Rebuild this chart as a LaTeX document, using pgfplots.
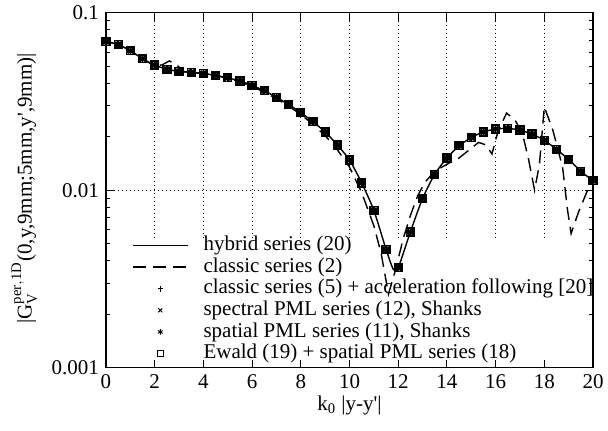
\documentclass[border=0pt]{standalone}
\usepackage{fontspec}
\setmainfont{Liberation Serif}
\usepackage{pgfplots}
\pgfplotsset{compat=1.18}
\usepackage{pgfplotstable}

\pgfplotsset{
  lineleg/.style={legend image code/.code={
    \draw[##1] (0pt,0pt) -- (27.5pt,0pt);
  }},
  markleg/.style={legend image code/.code={
    \path[draw=none, fill=none] (0pt,0pt) -- (27.5pt,0pt);
    \draw[##1, only marks, mark size=1.4pt, mark options={line width=0.45pt}] plot coordinates {(13.75pt,0pt)};
  }},
}

% hybrid series (20), sampled every 0.5 (the accelerated series coincide with it)
\pgfplotstableread{
x y
0 0.0686
0.5 0.0663
1 0.0611
1.5 0.0550
2 0.0507
2.5 0.0480
3 0.0467
3.5 0.0461
4 0.0455
4.5 0.0443
5 0.0430
5.5 0.0412
6 0.0390
6.5 0.0363
7 0.0334
7.5 0.0304
8 0.0274
8.5 0.0243
9 0.0213
9.5 0.0180
10 0.0148
10.5 0.0110
11 0.0077
11.5 0.00465
12 0.00366
12.5 0.00582
13 0.00898
13.5 0.0123
14 0.0152
14.5 0.0178
15 0.0198
15.5 0.0213
16 0.0221
16.5 0.0223
17 0.0218
17.5 0.0207
18 0.0191
18.5 0.0170
19 0.0149
19.5 0.0128
20 0.0113
}\points

\pgfplotstableread{
x y
0 0.0686
0.5 0.0663
1 0.0611
1.5 0.0550
2 0.0507
2.5 0.0480
3 0.0467
3.5 0.0461
4 0.0455
4.5 0.0443
5 0.0430
5.5 0.0412
6 0.0390
6.5 0.0363
7 0.0334
7.5 0.0304
8 0.0274
8.5 0.0243
9 0.0213
9.5 0.0180
10 0.0148
10.5 0.0110
11 0.0077
11.5 0.00465
11.8 0.00358
12 0.00366
12.5 0.00582
13 0.00898
13.5 0.0123
14 0.0152
14.5 0.0178
15 0.0198
15.5 0.0213
16 0.0221
16.5 0.0223
17 0.0218
17.5 0.0207
18 0.0191
18.5 0.0170
19 0.0149
19.5 0.0128
20 0.0113
}\hybrid

% classic series (2)
\pgfplotstableread{
x y
0 0.0690
0.5 0.0662
1 0.0610
1.5 0.0548
2 0.0503
2.3 0.0508
2.6 0.0535
2.9 0.0508
3.2 0.0466
3.5 0.0460
4 0.0454
4.5 0.0442
5 0.0428
5.5 0.0408
6 0.0384
6.5 0.0357
7 0.0328
7.5 0.0298
8 0.0267
8.5 0.0235
9 0.0203
9.5 0.0169
10 0.0135
10.5 0.0097
11 0.0063
11.3 0.0044
11.6 0.0026
11.9 0.0036
12.2 0.0053
12.5 0.0072
12.8 0.0093
13.1 0.0111
13.5 0.0128
14 0.0140
14.5 0.0152
14.9 0.0168
15.3 0.0186
15.6 0.0180
15.85 0.0160
16.1 0.0215
16.45 0.0272
16.8 0.0248
17.1 0.0209
17.35 0.0150
17.6 0.0100
17.8 0.0140
18.0 0.0295
18.35 0.0218
18.75 0.0135
18.95 0.0078
19.1 0.0057
19.4 0.0075
19.75 0.0098
20 0.0115
}\classic

\begin{document}
\begin{tikzpicture}[font=\fontsize{10.5}{12.6}\selectfont]
\begin{axis}[
  scale only axis, width=243.5pt, height=177.5pt,
  ymode=log, xmin=0, xmax=20, ymin=0.001, ymax=0.1,
  xtick={0,2,...,20},
  ytick={0.001,0.01,0.1}, yticklabels={0.001,0.01,0.1},
  /pgf/number format/assume math mode=true,
  axis line style={line width=0.6pt},
  tick style={black, line width=0.5pt},
  major tick length=4pt, minor tick length=2pt,
  xlabel={k\textsubscript{0} |y-y\textquotesingle|},
  xlabel style={at={(axis description cs:0.5,0)}, anchor=base, yshift=-21.2pt},
  ylabel={|G$^{\mathrm{per,1D}}_{\mathrm{V}}$(0,y,9mm;5mm,y\textquotesingle,9mm)|},
  ylabel style={at={(axis description cs:-0.1526,0.505)}, anchor=base},
  legend style={at={(axis description cs:0.0528,0.3758)}, anchor=north west,
    draw=none, fill=none, inner sep=0pt, column sep=7.5pt, row sep=0pt,
    nodes={inner sep=0pt, text height=8pt, text depth=2.8pt}},
  legend cell align=left,
]
% gnuplot style grid: dotted, vertical lines stop above the key
\pgfplotsinvokeforeach{2,4,6,8,10,12,14,16,18}{
  \draw[black, line width=0.5pt, dash pattern=on 0.5pt off 1.5pt] (axis cs:#1,0.0054) -- (axis cs:#1,0.1);
}
\draw[black, line width=0.5pt, dash pattern=on 0.5pt off 1.5pt] (axis cs:0,0.01) -- (axis cs:20,0.01);

\addplot[black, line width=0.7pt, smooth, tension=0.4, no marks, lineleg] table {\hybrid};
\addlegendentry{hybrid series (20)}
\addplot[black, line width=0.7pt, dash pattern=on 6.5pt off 3.5pt, no marks, lineleg] table {\classic};
\addlegendentry{classic series (2)}
\addplot[black, only marks, mark=+, mark size=1.9pt, mark options={line width=0.85pt}, markleg] table {\points};
\addlegendentry{classic series (5) + acceleration following [20]}
\addplot[black, only marks, mark=x, mark size=1.9pt, mark options={line width=0.85pt}, markleg] table {\points};
\addlegendentry{spectral PML series (12), Shanks}
\addplot[black, only marks, mark=asterisk, mark size=1.9pt, mark options={line width=0.85pt}, markleg] table {\points};
\addlegendentry{spatial PML series (11), Shanks}
\addplot[black, only marks, mark=square, mark size=1.9pt, mark options={line width=0.85pt}, markleg] table {\points};
\addlegendentry{Ewald (19) + spatial PML series (18)}
\end{axis}
\pgfresetboundingbox
\path ([shift={(-53pt,-31.2pt)}]current axis.south west) rectangle ([shift={(7.5pt,6.35pt)}]current axis.north east);
\end{tikzpicture}
\end{document}
